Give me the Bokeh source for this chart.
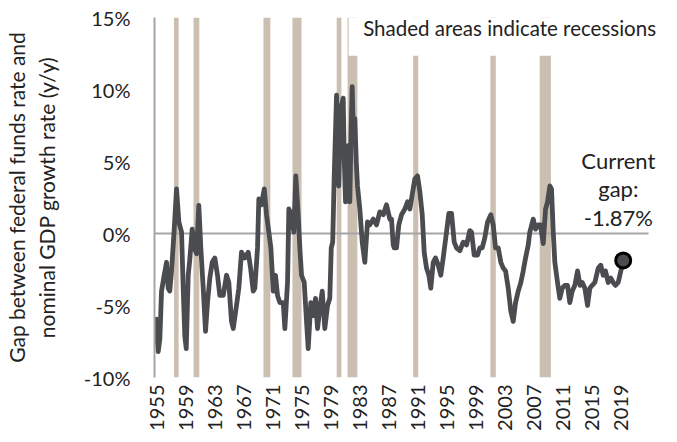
import math
from bokeh.plotting import figure
from bokeh.models import (ColumnDataSource, FixedTicker, PrintfTickFormatter,
                          BoxAnnotation, Label, Range1d)
from bokeh.embed import file_html
from bokeh.resources import INLINE

# ---- data ----
years = [1954.86, 1955.23, 1955.46, 1955.69, 1956.06, 1956.38, 1956.61, 1956.83, 1957.07, 1957.44,
         1957.76, 1958.08, 1958.45, 1958.68, 1958.90, 1959.10, 1959.37, 1959.59, 1959.92, 1960.20,
         1960.52, 1960.83, 1961.11, 1961.44, 1961.76, 1962.03, 1962.35, 1962.68, 1963.04, 1963.41,
         1963.73, 1964.20, 1964.66, 1964.97, 1965.34, 1965.58, 1966.03, 1966.35, 1966.72, 1967.18,
         1967.65, 1967.97, 1968.34, 1968.56, 1968.93, 1969.11, 1969.48, 1969.86, 1970.17, 1970.49,
         1970.77, 1971.10, 1971.41, 1971.69, 1972.01, 1972.48, 1972.70, 1973.07, 1973.25, 1973.62,
         1973.94, 1974.21, 1974.54, 1974.77, 1975.00, 1975.37, 1975.69, 1975.92, 1976.28, 1976.61,
         1976.93, 1977.21, 1977.52, 1977.86, 1978.21, 1978.59, 1978.90, 1979.10, 1979.30, 1979.50,
         1979.83, 1980.00, 1980.14, 1980.30, 1980.42, 1980.75, 1980.90, 1981.07, 1981.25, 1981.44,
         1981.66, 1981.85, 1981.99, 1982.15, 1982.35, 1982.55, 1982.72, 1983.04, 1983.37, 1983.73,
         1984.10, 1984.42, 1984.89, 1985.34, 1985.80, 1986.27, 1986.72, 1987.18, 1987.41, 1987.65,
         1987.79, 1988.10, 1988.42, 1988.79, 1989.25, 1989.62, 1989.94, 1990.27, 1990.63, 1991.00,
         1991.32, 1991.65, 1991.92, 1992.24, 1992.56, 1992.83, 1993.17, 1993.48, 1993.86, 1994.21,
         1994.54, 1995.00, 1995.32, 1995.69, 1996.06, 1996.38, 1996.83, 1997.30, 1997.76, 1998.21,
         1998.45, 1998.82, 1999.28, 1999.59, 1999.92, 2000.28, 2000.66, 2001.11, 2001.44, 2001.76,
         2002.13, 2002.49, 2002.82, 2003.14, 2003.51, 2003.87, 2004.20, 2004.52, 2004.89, 2005.25,
         2005.58, 2005.90, 2006.27, 2006.49, 2006.96, 2007.28, 2007.65, 2007.97, 2008.34, 2008.66,
         2008.93, 2009.25, 2009.48, 2009.72, 2009.94, 2010.31, 2010.63, 2010.96, 2011.32, 2011.69,
         2012.01, 2012.34, 2012.70, 2013.07, 2013.42, 2013.72, 2014.08, 2014.45, 2014.77, 2015.10,
         2015.46, 2015.93, 2016.28, 2016.61, 2016.93, 2017.30, 2017.66, 2017.99, 2018.30, 2018.68,
         2019.04, 2019.37]
gap = [-5.8, -8.2, -7.3, -4.0, -2.9, -2.0, -3.8, -4.0, -2.6, 0.3,
       3.1, 0.8, 0.1, -3.8, -7.1, -8.0, -2.9, -1.8, 0.3, -1.0,
       -1.4, 1.95, -1.0, -3.8, -6.8, -4.8, -3.1, -2.0, -1.7, -2.9,
       -4.3, -4.3, -2.9, -3.4, -6.1, -6.6, -5.0, -3.8, -1.3, -1.7,
       -1.3, -2.4, -4.0, -3.8, -1.0, 2.4, 2.0, 3.1, 1.3, 0.1,
       -1.0, -4.0, -2.9, -4.3, -4.8, -4.8, -6.6, -3.4, 1.7, 1.3,
       0.1, 4.0, 1.3, -1.0, -2.9, -3.4, -6.1, -8.0, -4.8, -5.7,
       -4.5, -6.6, -5.2, -4.0, -6.6, -5.0, -4.5, -1.0, -0.6, 3.8,
       9.6, 5.5, 3.3, 7.0, 8.7, 9.4, 5.0, 2.2, 5.0, 6.1,
       2.2, 7.5, 10.2, 7.0, 8.0, 5.0, 3.3, 1.7, -0.6, -2.0,
       0.8, 0.6, 1.0, 0.6, 1.5, 1.3, 2.0, 1.0, 1.0, -0.8,
       -1.0, -1.0, 0.6, 1.3, 1.7, 2.2, 1.7, 2.7, 3.8, 4.0,
       2.9, 1.3, -1.3, -2.4, -2.9, -3.8, -2.0, -1.7, -2.2, -2.9,
       -1.7, 0.1, 1.4, 1.4, -0.6, -1.0, -1.2, -0.6, -0.8, 0.2,
       0.1, -1.5, -1.5, -1.0, -1.0, -0.3, 0.8, 1.3, 0.6, -1.0,
       -1.0, -2.0, -2.4, -2.6, -3.8, -5.4, -6.1, -4.8, -4.0, -3.4,
       -2.6, -1.7, -0.8, 0.1, 1.0, 0.3, 0.6, 0.6, -0.7, 1.7,
       2.2, 3.3, 3.1, 0.1, -2.0, -3.4, -4.5, -3.8, -3.6, -3.6,
       -4.8, -4.0, -3.6, -2.6, -3.6, -3.4, -3.8, -5.0, -3.8, -3.6,
       -3.4, -2.4, -2.2, -2.9, -2.6, -3.4, -3.1, -3.4, -3.6, -3.4,
       -2.6, -1.87]

rec_start = [1957.40, 1960.10, 1969.75, 1973.75, 1979.85, 1981.35, 1990.40, 2001.05, 2007.85]
rec_end = [1958.05, 1960.90, 1970.70, 1975.00, 1980.50, 1982.70, 1991.10, 2001.80, 2009.40]

year_ticks = list(range(1955, 2020, 4))
pct_ticks = [-10, -5, 0, 5, 10, 15]

current_label = "Current\ngap:\n-1.87%"
note = "Shaded areas indicate recessions"
y_title = "Gap between federal funds rate and\nnominal GDP growth rate (y/y)"

FONT = "Lato"
LINE = "#4a4c50"
BAR = "#cbbfb2"
AXIS = "#a6a6a6"
TXT = "#222222"

X_START, X_AXIS_END, X_END = 1954.72, 2022.86, 2024.79

p = figure(frame_width=508, frame_height=360, output_backend="svg", toolbar_location=None,
           x_range=Range1d(X_START, X_END), y_range=Range1d(-10, 15),
           min_border_left=145, min_border_right=8, min_border_top=17, min_border_bottom=50)
p.outline_line_color = None
p.background_fill_color = "white"
p.xgrid.visible = False
p.ygrid.visible = False

rec = ColumnDataSource(dict(left=rec_start, right=rec_end,
                            bottom=[pct_ticks[0]] * len(rec_start),
                            top=[pct_ticks[-1]] * len(rec_start)))
p.quad(left="left", right="right", bottom="bottom", top="top", source=rec,
       fill_color=BAR, line_color=None)

# horizontal axis line at 0 %
p.segment(x0=[X_START], y0=[0], x1=[X_AXIS_END], y1=[0], line_color=AXIS, line_width=2)

src = ColumnDataSource(dict(x=years, y=gap))
p.line("x", "y", source=src, line_color=LINE, line_width=4.8, line_join="round")
p.scatter(x=[years[-1]], y=[gap[-1]], size=15, fill_color=LINE, line_color="black",
          line_width=3)

# white box behind the note (hides the top of the bars as in the original)
p.add_layout(BoxAnnotation(left=1981.5, bottom=12.35, fill_color="white", fill_alpha=1.0,
                           line_color=None, level="annotation"))
p.add_layout(Label(x=1983.5, y=14.28, text=note, text_font=FONT, text_font_size="20.5px",
                   text_color=TXT, text_align="left", text_baseline="middle"))
p.add_layout(Label(x=2018.7, y=6.0, text=current_label, text_font=FONT,
                   text_font_size="22px", text_color=TXT, text_align="center",
                   text_baseline="top", text_line_height=1.05))

# axes
xa = p.xaxis[0]
xa.ticker = FixedTicker(ticks=year_ticks)
xa.axis_line_color = None
xa.major_tick_line_color = None
xa.minor_tick_line_color = None
xa.major_tick_out = 0
xa.major_label_orientation = math.pi / 2
xa.major_label_text_font = FONT
xa.major_label_text_font_size = "20px"
xa.major_label_text_color = TXT
xa.major_label_standoff = 7

ya = p.yaxis[0]
ya.ticker = FixedTicker(ticks=pct_ticks)
ya.formatter = PrintfTickFormatter(format="%d%%")
ya.axis_line_color = AXIS
ya.axis_line_width = 2
ya.major_tick_line_color = None
ya.minor_tick_line_color = None
ya.major_label_text_font = FONT
ya.major_label_text_font_size = "20px"
ya.major_label_text_color = TXT
ya.major_label_standoff = 18
ya.axis_label = y_title
ya.axis_label_text_font = FONT
ya.axis_label_text_font_size = "21px"
ya.axis_label_text_font_style = "normal"
ya.axis_label_text_color = TXT
ya.axis_label_standoff = 22

open("out.html", "w").write(file_html(p, INLINE))
